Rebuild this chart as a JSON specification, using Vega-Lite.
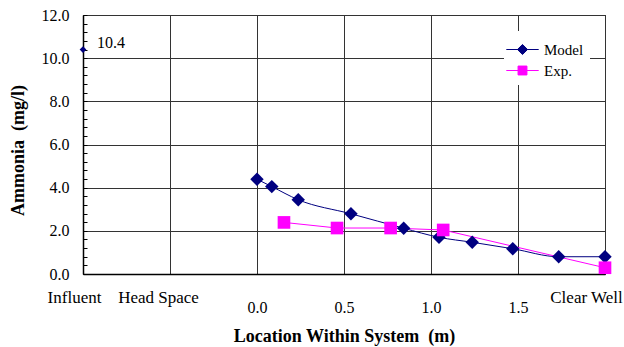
{
  "$schema": "https://vega.github.io/schema/vega-lite/v6.json",
  "width": 522,
  "height": 259,
  "autosize": "none",
  "padding": {"left": 83, "top": 15, "right": 19, "bottom": 73},
  "background": "white",
  "config": {
    "view": {"stroke": "#000", "strokeWidth": 1},
    "font": "Liberation Serif"
  },
  "datasets": {
    "series": [
      {"series": "Model", "loc": 0.0, "nh3": 4.39},
      {"series": "Model", "loc": 0.085, "nh3": 4.05},
      {"series": "Model", "loc": 0.237, "nh3": 3.44},
      {"series": "Model", "loc": 0.54, "nh3": 2.79},
      {"series": "Model", "loc": 0.843, "nh3": 2.12},
      {"series": "Model", "loc": 1.046, "nh3": 1.70},
      {"series": "Model", "loc": 1.237, "nh3": 1.47},
      {"series": "Model", "loc": 1.47, "nh3": 1.17},
      {"series": "Model", "loc": 1.734, "nh3": 0.80},
      {"series": "Model", "loc": 2.0, "nh3": 0.80},
      {"series": "Exp.", "loc": 0.155, "nh3": 2.39},
      {"series": "Exp.", "loc": 0.46, "nh3": 2.13},
      {"series": "Exp.", "loc": 0.768, "nh3": 2.13},
      {"series": "Exp.", "loc": 1.07, "nh3": 2.04},
      {"series": "Exp.", "loc": 2.0, "nh3": 0.29}
    ],
    "influent": [
      {"loc": -1, "nh3": 10.4, "label": "10.4"}
    ]
  },
  "encoding": {
    "x": {
      "field": "loc", "type": "quantitative",
      "scale": {"domain": [-1, 2], "nice": false, "zero": false},
      "axis": {
        "values": [-1, -0.5, 0, 0.5, 1, 1.5, 2],
        "labelExpr": "datum.value == -1 ? 'Influent' : datum.value == -0.5 ? 'Head Space' : datum.value == 2 ? 'Clear Well' : format(datum.value, '.1f')",
        "labelFont": "Liberation Serif",
        "labelFontSize": {"condition": {"test": "datum.value == -1 || datum.value == -0.5 || datum.value == 2", "value": 17}, "value": 16},
        "labelColor": "#000",
        "ticks": false,
        "domainColor": "#000",
        "domainWidth": 1.5,
        "grid": true,
        "gridColor": "#333",
        "gridWidth": 1,
        "labelFlush": false,
        "labelOverlap": false,
        "labelOffset": {"condition": [
          {"test": "datum.value == -1", "value": -9},
          {"test": "datum.value == -0.5", "value": -12},
          {"test": "datum.value == 2", "value": -19}
        ], "value": 0},
        "labelPadding": {"condition": {"test": "datum.value == -1 || datum.value == -0.5 || datum.value == 2", "value": 15}, "value": 25},
        "title": "Location Within System\u00a0 (m)",
        "titleFont": "Liberation Serif",
        "titleFontSize": 18,
        "titleFontWeight": "bold",
        "titleColor": "#000",
        "titlePadding": 12
      }
    },
    "y": {
      "field": "nh3", "type": "quantitative",
      "scale": {"domain": [0, 12], "nice": false},
      "axis": {
        "values": [0, 0.4, 0.8, 1.2, 1.6, 2, 2.4, 2.8, 3.2, 3.6, 4, 4.4, 4.8, 5.2, 5.6, 6, 6.4, 6.8, 7.2, 7.6, 8, 8.4, 8.8, 9.2, 9.6, 10, 10.4, 10.8, 11.2, 11.6, 12],
        "labelExpr": "abs(datum.value / 2 - round(datum.value / 2)) > 0.01 ? '' : format(datum.value, '.1f')",
        "labelFont": "Liberation Serif",
        "labelFontSize": 16,
        "labelColor": "#000",
        "ticks": true,
        "tickSize": -4,
        "tickColor": "#000",
        "domainColor": "#000",
        "domainWidth": 1.5,
        "grid": true,
        "gridColor": "#333",
        "gridWidth": 1,
        "gridOpacity": {"condition": {"test": "abs(datum.value / 2 - round(datum.value / 2)) > 0.01", "value": 0}, "value": 1},
        "labelOverlap": false,
        "labelFlush": false,
        "labelPadding": 18,
        "title": "Ammonia\u00a0 (mg/l)",
        "titleFont": "Liberation Serif",
        "titleFontSize": 18,
        "titleFontWeight": "bold",
        "titleColor": "#000",
        "titlePadding": 14,
        "titleY": 135
      }
    }
  },
  "layer": [
    {
      "data": {"name": "series"},
      "mark": {"type": "line", "strokeWidth": 1, "interpolate": "monotone", "clip": false},
      "encoding": {
        "strokeOpacity": {"condition": {"test": "datum.series == 'Exp.'", "value": 0}, "value": 1},
        "color": {
          "field": "series", "type": "nominal",
          "scale": {"domain": ["Model", "Exp."], "range": ["#000080", "#FF00FF"]},
          "legend": {
            "orient": "none",
            "legendX": 421,
            "legendY": 16,
            "title": null,
            "fillColor": "white",
            "padding": 6,
            "labelFont": "Liberation Serif",
            "labelFontSize": 15,
            "labelColor": "#000",
            "labelOffset": 9,
            "symbolSize": 576,
            "rowPadding": 0,
            "encode": {
              "symbols": {
                "update": {
                  "shape": {"signal": "datum.value == 'Model' ? 'M-1.35,0H1.35M0,-0.42L0.42,0L0,0.42L-0.42,0Z' : 'M-1.35,0H1.35M-0.37,-0.37H0.37V0.37H-0.37Z'"},
                  "fill": {"signal": "datum.value == 'Model' ? '#000080' : '#FF00FF'"},
                  "stroke": {"signal": "datum.value == 'Model' ? '#000080' : '#FF00FF'"},
                  "strokeWidth": {"value": 1},
                  "size": {"value": 576},
                  "opacity": {"value": 1},
                  "strokeOpacity": {"value": 1},
                  "fillOpacity": {"value": 1}
                }
              }
            }
          }
        }
      }
    },
    {
      "data": {"name": "series"},
      "transform": [{"filter": "datum.series == 'Exp.'"}],
      "mark": {"type": "line", "color": "#FF00FF", "strokeWidth": 1, "interpolate": "linear", "clip": false}
    },
    {
      "data": {"name": "series"},
      "transform": [{"filter": "datum.series == 'Model'"}],
      "mark": {"type": "point", "shape": "diamond", "filled": true, "opacity": 1, "size": 180, "color": "#000080", "clip": false}
    },
    {
      "data": {"name": "series"},
      "transform": [{"filter": "datum.series == 'Exp.'"}],
      "mark": {"type": "point", "shape": "square", "filled": true, "opacity": 1, "size": 160, "color": "#FF00FF", "clip": false}
    },
    {
      "data": {"name": "influent"},
      "mark": {"type": "point", "shape": "diamond", "filled": true, "opacity": 1, "size": 45, "color": "#000080", "clip": false}
    },
    {
      "data": {"name": "influent"},
      "mark": {"type": "text", "align": "left", "baseline": "middle", "dx": 14, "dy": -7, "font": "Liberation Serif", "fontSize": 16, "color": "#000"},
      "encoding": {"text": {"field": "label"}}
    }
  ]
}
